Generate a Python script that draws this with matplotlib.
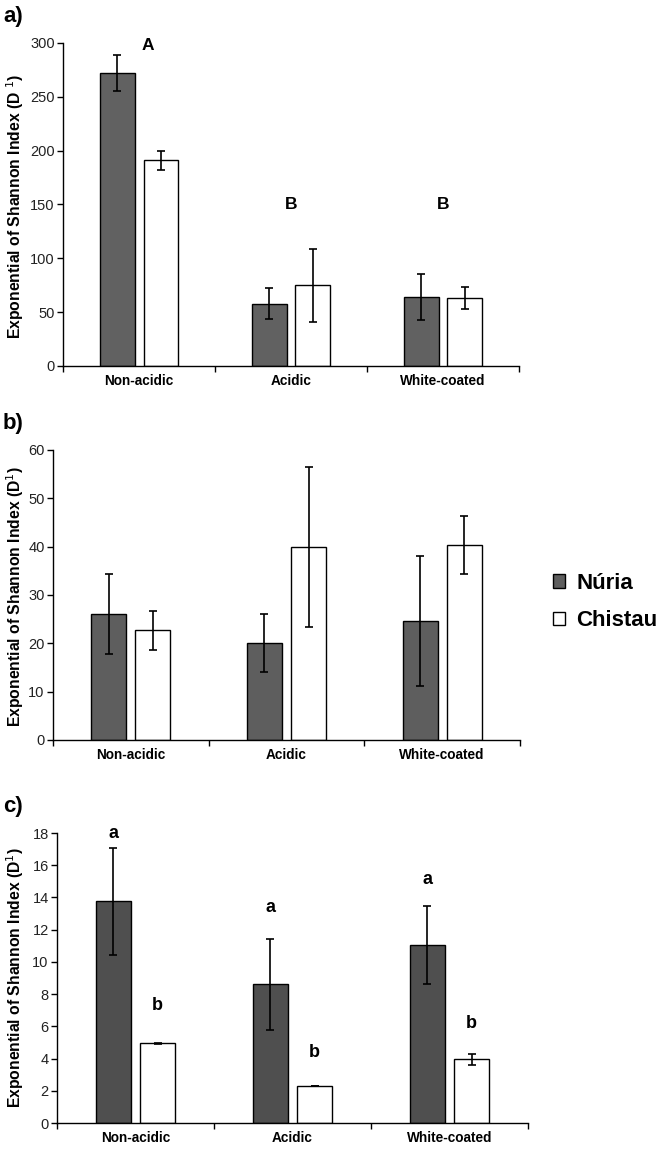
import matplotlib.pyplot as plt
import numpy as np

plt.rcParams['font.family'] = ['Liberation Sans', 'DejaVu Sans']

# -----------------------
# DATA
# -----------------------

categories = ["Non-acidic", "Acidic", "White-coated"]
sites = ["Núria", "Chistau"]

# panel a
a_nuria = [272, 58, 64]
a_nuria_err = [17, 14, 21.5]
a_chistau = [191, 75, 63]
a_chistau_err = [9, 34, 10]
a_letters = ["A", "B", "B"]
a_letter_y = [298, 150, 150]

# panel b
b_nuria = [26.1, 20.1, 24.6]
b_nuria_err = [8.3, 6.0, 13.5]
b_chistau = [22.7, 39.9, 40.4]
b_chistau_err = [4.0, 16.6, 6.0]

# panel c
c_nuria = [13.75, 8.6, 11.05]
c_nuria_err = [3.3, 2.8, 2.4]
c_chistau = [4.95, 2.3, 3.95]
c_chistau_err = [0.02, 0.02, 0.35]
c_letters_nuria = ["a", "a", "a"]
c_letters_nuria_y = [18.0, 13.4, 15.1]
c_letters_chistau = ["b", "b", "b"]
c_letters_chistau_y = [7.3, 4.4, 6.2]

# -----------------------
# FIGURE
# -----------------------

W, H = 662, 1149
fig = plt.figure(figsize=(W / 100, H / 100), dpi=100)

x = np.arange(3) + 0.5
w = 0.225
off = 0.142


def draw_panel(rect, nuria, nuria_err, chistau, chistau_err, ymax, ystep, dark, label, ylab, ylab_y):
    ax = fig.add_axes(rect)
    ax.bar(x - off, nuria, w, color=dark, edgecolor="black", linewidth=1.0,
           yerr=nuria_err, capsize=3, error_kw=dict(elinewidth=1.2, capthick=1.2), label=sites[0])
    ax.bar(x + off, chistau, w, color="white", edgecolor="black", linewidth=1.0,
           yerr=chistau_err, capsize=3, error_kw=dict(elinewidth=1.2, capthick=1.2), label=sites[1])
    ax.set_xlim(0, 3)
    ax.set_ylim(0, ymax)
    ax.set_yticks(np.arange(0, ymax + ystep / 2, ystep))
    ax.set_xticks([0, 1, 2, 3])
    ax.set_xticklabels([])
    ax.set_xticks(x, minor=True)
    ax.set_xticklabels(categories, minor=True, fontweight="bold", fontsize=9.8)
    ax.tick_params(axis="x", which="minor", length=0, pad=6)
    ax.tick_params(axis="x", which="major", length=4, width=1)
    ax.tick_params(axis="y", length=4, width=1, labelsize=10.5, labelcolor="#222222", pad=2)
    for s in ["top", "right"]:
        ax.spines[s].set_visible(False)
    ax.spines["left"].set_linewidth(1)
    ax.spines["bottom"].set_linewidth(1)
    fig.text(15 / W, 1 - ylab_y / H, ylab, rotation=90, ha="center", va="center",
             fontweight="bold", fontsize=11.3)
    fig.text(3 / W, rect[1] + rect[3] + 0.014, label, fontsize=16, fontweight="bold", va="bottom")
    return ax


# a)
ax_a = draw_panel([0.0952, 0.6815, 0.6888, 0.2811], a_nuria, a_nuria_err, a_chistau, a_chistau_err,
                  300, 50, "#616161", "a)", "Exponential of Shannon Index (D $^{1}$)", 206)
for i, t in enumerate(a_letters):
    ax_a.text(x[i] + 0.06 * (i == 0), a_letter_y[i], t, ha="center", va="center",
              fontweight="bold", fontsize=12.5)

# b)
ax_b = draw_panel([0.080, 0.356, 0.7055, 0.2524], b_nuria, b_nuria_err, b_chistau, b_chistau_err,
                  60, 10, "#5e5e5e", "b)", "Exponential of Shannon Index (D$^{1}$)", 597)
fig.legend(*ax_b.get_legend_handles_labels(), loc="center left", bbox_to_anchor=(553 / W, 1 - 602 / H),
           frameon=False, prop=dict(weight="bold", size=16), handlelength=0.55, handleheight=0.55,
           handletextpad=0.5, labelspacing=0.75, borderaxespad=0, borderpad=0)

# c)
ax_c = draw_panel([0.0861, 0.0226, 0.7115, 0.2524], c_nuria, c_nuria_err, c_chistau, c_chistau_err,
                  18, 2, "#4f4f4f", "c)", "Exponential of Shannon Index (D$^{1}$)", 978)
for i in range(3):
    ax_c.text(x[i] - off, c_letters_nuria_y[i], c_letters_nuria[i], ha="center", va="center",
              fontweight="bold", fontsize=13)
    ax_c.text(x[i] + off, c_letters_chistau_y[i], c_letters_chistau[i], ha="center", va="center",
              fontweight="bold", fontsize=13)

plt.savefig("out.png", dpi=100)
